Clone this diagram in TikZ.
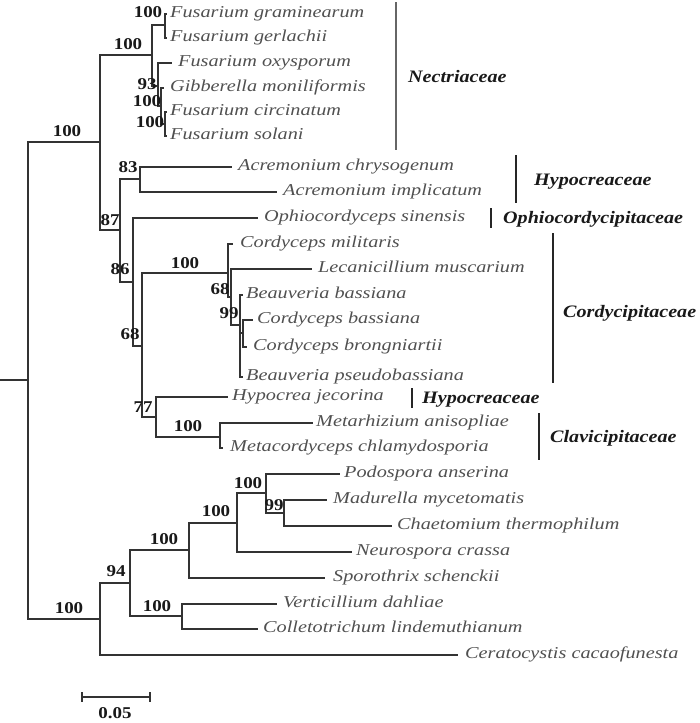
\documentclass[tikz,border=0pt]{standalone}
\usepackage{fontspec}
\setmainfont{Liberation Serif}
\newfontfamily\taxfont[FakeStretch=1.22]{Liberation Serif}
\newfontfamily\bsfont[FakeStretch=1.15]{Liberation Serif}
\definecolor{treecol}{HTML}{333333}
\definecolor{taxcol}{HTML}{505050}
\definecolor{barcol}{HTML}{666666}
\begin{document}
\begin{tikzpicture}[x=1pt,y=-1pt,
  br/.style={draw=treecol, line width=1.3pt},
  taxon/.style={anchor=base west, inner sep=0pt, yshift=-3.8pt, font=\taxfont\itshape\fontsize{16.6}{18}\selectfont, text=taxcol},
  boot/.style={inner sep=0pt, font=\bsfont\bfseries\fontsize{16.5}{18}\selectfont, text=black!90},
  fam/.style={anchor=base west, inner sep=0pt, yshift=0pt, font=\bsfont\bfseries\itshape\fontsize{17.5}{20}\selectfont, text=black!90},
  fambar/.style={line width=1.4pt, draw=black!85}]
\useasboundingbox (0,0) rectangle (700,723);

% ---------- coordinates ----------
\coordinate (stub) at (0,380);
\coordinate (R0) at (28,380);
\coordinate (H) at (100,142);
\coordinate (S) at (100,619);
\coordinate (N) at (152,55);
\coordinate (n87) at (120,230);
\coordinate (N1) at (165,25);
\coordinate (tgram) at (167,14);
\coordinate (tgerl) at (167,38);
\coordinate (n93) at (158,86);
\coordinate (toxy) at (172,63);
\coordinate (nB) at (161,106);
\coordinate (tgib) at (164,88);
\coordinate (nC) at (165,124);
\coordinate (tcirc) at (167,112);
\coordinate (tsol) at (167,136);
\coordinate (n83) at (140,179);
\coordinate (tchry) at (232,167);
\coordinate (timpl) at (277,192);
\coordinate (n86) at (133,282);
\coordinate (tophi) at (258,218);
\coordinate (n142) at (142,346);
\coordinate (P) at (228,273);
\coordinate (tmil) at (233,244);
\coordinate (Q) at (231,297);
\coordinate (tlec) at (312,269);
\coordinate (Rn) at (240,325);
\coordinate (tbb) at (243,295);
\coordinate (S2) at (243,333);
\coordinate (tcb) at (253,320);
\coordinate (tcbr) at (247,347);
\coordinate (tbp) at (243,377);
\coordinate (n77) at (156,417);
\coordinate (thyp) at (228,397);
\coordinate (nCl) at (220,437);
\coordinate (tmet) at (313,423);
\coordinate (tmcd) at (223,448);
\coordinate (n94) at (130,583);
\coordinate (tcer) at (458,655);
\coordinate (nA) at (189,550);
\coordinate (tspo) at (325,578);
\coordinate (nB2) at (237,523);
\coordinate (tneu) at (352,552);
\coordinate (nC2) at (266,493);
\coordinate (tpod) at (340,474);
\coordinate (n99) at (284,513);
\coordinate (tmad) at (327,500);
\coordinate (tcha) at (392,526);
\coordinate (nV) at (182,616);
\coordinate (tver) at (277,604);
\coordinate (tcol) at (258,629);

% ---------- branches ----------
\draw[br] (stub) -- (R0);
\foreach \p/\c in {R0/H, R0/S, H/N, H/n87, N/N1, N/n93, N1/tgram, N1/tgerl,
  n93/toxy, n93/nB, nB/tgib, nB/nC, nC/tcirc, nC/tsol,
  n87/n83, n87/n86, n83/tchry, n83/timpl, n86/tophi, n86/n142,
  n142/P, n142/n77, P/tmil, P/Q, Q/tlec, Q/Rn, Rn/tbb, Rn/S2, Rn/tbp, S2/tcb, S2/tcbr,
  n77/thyp, n77/nCl, nCl/tmet, nCl/tmcd,
  S/n94, S/tcer, n94/nA, n94/nV, nA/nB2, nA/tspo, nB2/nC2, nB2/tneu,
  nC2/tpod, nC2/n99, n99/tmad, n99/tcha, nV/tver, nV/tcol}
  \draw[br] (\p) |- (\c);

% ---------- taxa ----------
\node[taxon] (lgram) at (170,14) {Fusarium graminearum};
\node[taxon] (lgerl) at (170,38) {Fusarium gerlachii};
\node[taxon] (loxy) at (178,63) {Fusarium oxysporum};
\node[taxon] (lgib) at (170,88) {Gibberella moniliformis};
\node[taxon] (lcirc) at (170,112) {Fusarium circinatum};
\node[taxon] (lsol) at (170,136) {Fusarium solani};
\node[taxon] (lchry) at (238,167) {Acremonium chrysogenum};
\node[taxon] (limpl) at (283,192) {Acremonium implicatum};
\node[taxon] (lophi) at (264,218) {Ophiocordyceps sinensis};
\node[taxon] (lmil) at (240,244) {Cordyceps militaris};
\node[taxon] (llec) at (318,269) {Lecanicillium muscarium};
\node[taxon] (lbb) at (246,295) {Beauveria bassiana};
\node[taxon] (lcb) at (257,320) {Cordyceps bassiana};
\node[taxon] (lcbr) at (253,347) {Cordyceps brongniartii};
\node[taxon] (lbp) at (246,377) {Beauveria pseudobassiana};
\node[taxon] (lhyp) at (232,397) {Hypocrea jecorina};
\node[taxon] (lmet) at (316,423) {Metarhizium anisopliae};
\node[taxon] (lmcd) at (230,448) {Metacordyceps chlamydosporia};
\node[taxon] (lpod) at (344,474) {Podospora anserina};
\node[taxon] (lmad) at (333,500) {Madurella mycetomatis};
\node[taxon] (lcha) at (397,526) {Chaetomium thermophilum};
\node[taxon] (lneu) at (356,552) {Neurospora crassa};
\node[taxon] (lspo) at (333,578) {Sporothrix schenckii};
\node[taxon] (lver) at (283,604) {Verticillium dahliae};
\node[taxon] (lcol) at (263,629) {Colletotrichum lindemuthianum};
\node[taxon] (lcer) at (465,655) {Ceratocystis cacaofunesta};

% ---------- bootstrap values ----------
\node[boot] (b1) at (67,131) {100};
\node[boot] (b2) at (128,44) {100};
\node[boot] (b3) at (148,12) {100};
\node[boot] (b4) at (147,84) {93};
\node[boot] (b5) at (147,101) {100};
\node[boot] (b6) at (150,122) {100};
\node[boot] (b7) at (128,167) {83};
\node[boot] (b8) at (110,220) {87};
\node[boot] (b9) at (120,269) {86};
\node[boot] (b10) at (130,334) {68};
\node[boot] (b11) at (185,263) {100};
\node[boot] (b12) at (220,289) {68};
\node[boot] (b13) at (229,313) {99};
\node[boot] (b14) at (143,407) {77};
\node[boot] (b15) at (188,426) {100};
\node[boot] (b16) at (69,608) {100};
\node[boot] (b17) at (116,571) {94};
\node[boot] (b18) at (164,539) {100};
\node[boot] (b19) at (216,511) {100};
\node[boot] (b20) at (248,483) {100};
\node[boot] (b21) at (274,505) {99};
\node[boot] (b22) at (157,606) {100};

% ---------- families ----------
\draw[fambar, draw=barcol] (396,2) -- (396,150);
\node[fam] (fnec) at (408,82) {Nectriaceae};
\draw[fambar] (516,155) -- (516,203);
\node[fam] (fhyp1) at (534,185) {Hypocreaceae};
\draw[fambar] (491,208) -- (491,228);
\node[fam] (fophi) at (503,223) {Ophiocordycipitaceae};
\draw[fambar] (553,233) -- (553,383);
\node[fam] (fcor) at (563,317) {Cordycipitaceae};
\draw[fambar] (412,388) -- (412,408);
\node[fam] (fhyp2) at (422,403) {Hypocreaceae};
\draw[fambar] (539,413) -- (539,460);
\node[fam] (fcla) at (550,442) {Clavicipitaceae};

% ---------- scale bar ----------
\coordinate (sbL) at (82,697);
\coordinate (sbR) at (150,697);
\draw[br] (sbL) -- (sbR);
\draw[br] ([yshift=5pt]sbL) -- ([yshift=-5pt]sbL);
\draw[br] ([yshift=5pt]sbR) -- ([yshift=-5pt]sbR);
\node[boot] (sblab) at (115,713) {0.05};
\end{tikzpicture}
\end{document}
